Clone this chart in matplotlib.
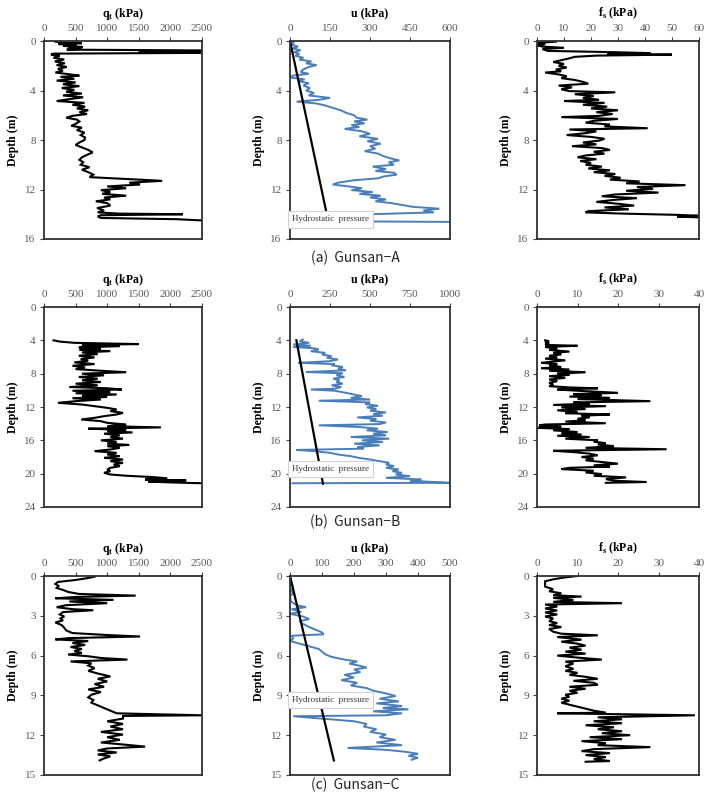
import matplotlib
matplotlib.use("Agg")
import matplotlib.pyplot as plt

a_qt = [(0.05,180),(0.12,320),(0.18,600),(0.25,230),(0.32,520),(0.4,300),(0.48,610),(0.55,380),(0.62,600),(0.7,360),
        (0.76,2500),(0.84,2500),(0.9,1500),(0.96,2500),(1.02,150),(1.1,110),(1.2,250),(1.35,150),(1.5,320),(1.65,170),
        (1.8,330),(1.95,200),(2.1,360),(2.25,220),(2.4,300),(2.55,180),(2.7,420),(2.8,560),(2.9,260),(3.05,480),
        (3.2,200),(3.35,500),(3.5,300),(3.65,560),(3.8,280),(3.95,480),(4.1,350),(4.25,600),(4.4,300),(4.55,620),
        (4.7,400),(4.85,200),(5.0,640),(5.15,450),(5.3,650),(5.45,520),(5.6,700),(5.75,560),(5.9,680),(6.05,450),
        (6.2,350),(6.35,520),(6.5,560),(6.7,500),(6.85,430),(7.0,600),(7.2,520),(7.4,640),(7.6,580),(7.8,650),
        (8.0,640),(8.2,560),(8.4,500),(8.6,600),(8.8,700),(9.0,770),(9.2,680),(9.4,600),(9.6,560),(9.8,620),
        (10.0,580),(10.2,720),(10.4,600),(10.6,700),(10.8,780),(11.0,720),(11.1,1100),(11.2,1500),(11.3,1870),(11.45,1350),
        (11.6,1520),(11.75,1000),(11.9,1300),(12.05,900),(12.2,1050),(12.35,920),(12.5,1300),(12.65,950),(12.8,1050),(12.95,820),
        (13.1,1000),(13.3,1050),(13.5,840),(13.7,950),(13.85,850),(13.95,1200),(14.0,2200),(14.08,900),(14.18,850),(14.3,900),
        (14.4,2100),(14.5,2500)]
a_u = [(0.0,0),(0.15,15),(0.3,5),(0.45,30),(0.6,10),(0.75,40),(0.9,15),(1.05,35),(1.2,20),(1.35,50),
       (1.5,35),(1.65,80),(1.8,60),(1.95,100),(2.1,70),(2.3,50),(2.5,40),(2.65,70),(2.8,10),(2.95,0),
       (3.1,55),(3.25,30),(3.4,70),(3.6,50),(3.8,75),(4.0,60),(4.2,90),(4.4,70),(4.6,150),(4.75,110),
       (4.9,25),(5.05,100),(5.2,130),(5.4,160),(5.6,190),(5.8,210),(6.0,240),(6.2,250),(6.35,290),(6.5,240),
       (6.65,280),(6.8,230),(6.95,260),(7.1,205),(7.3,270),(7.5,300),(7.7,260),(7.9,330),(8.1,290),(8.3,340),
       (8.5,300),(8.7,320),(8.9,280),(9.1,330),(9.3,350),(9.5,380),(9.65,410),(9.8,370),(10.0,390),(10.15,310),
       (10.35,360),(10.5,320),(10.65,390),(10.8,400),(10.95,350),(11.1,330),(11.25,240),(11.45,180),(11.6,160),(11.75,220),
       (11.9,270),(12.05,230),(12.2,310),(12.35,260),(12.5,340),(12.65,300),(12.8,360),(12.95,320),(13.1,380),(13.25,420),
       (13.4,460),(13.55,560),(13.7,500),(13.85,540),(14.0,300),(14.1,120),(14.3,100),(14.55,50),(14.62,600)]
a_fs = [(0.05,7),(0.15,0.5),(0.25,3),(0.35,0),(0.45,2),(0.55,10),(0.65,2),(0.8,4),(0.9,28),(0.98,42),
        (1.05,26),(1.1,50),(1.18,22),(1.28,14),(1.4,12),(1.55,9),(1.7,6),(1.85,10),(2.0,8),(2.15,11),
        (2.3,7),(2.45,9),(2.55,3),(2.7,8),(2.85,11),(3.0,9),(3.15,14),(3.3,17),(3.45,19),(3.6,8),
        (3.75,13),(3.9,9),(4.05,12),(4.15,29),(4.3,14),(4.45,21),(4.6,17),(4.75,23),(4.85,10),(5.0,25),
        (5.15,17),(5.3,26),(5.45,20),(5.6,30),(5.75,22),(5.9,28),(6.05,23),(6.15,9),(6.3,30),(6.45,21),
        (6.6,18),(6.75,27),(6.9,25),(7.05,41),(7.15,12),(7.3,22),(7.45,18),(7.6,11),(7.75,20),(7.9,25),
        (8.05,23),(8.2,17),(8.35,22),(8.5,13),(8.65,24),(8.8,27),(8.95,21),(9.1,25),(9.25,18),(9.4,15),
        (9.55,22),(9.7,16),(9.85,20),(10.0,18),(10.15,24),(10.3,19),(10.45,27),(10.6,21),(10.75,29),(10.9,25),
        (11.05,31),(11.2,27),(11.35,38),(11.5,33),(11.65,55),(11.8,37),(11.95,43),(12.1,33),(12.25,45),(12.4,29),
        (12.55,24),(12.7,37),(12.85,28),(13.0,22),(13.15,30),(13.3,36),(13.45,25),(13.6,34),(13.75,19),(13.85,18),
        (13.95,32),(14.05,52),(14.12,60),(14.2,52),(14.25,60)]

b_qt = [(4.0,150),(4.15,250),(4.3,480),(4.45,1500),(4.55,600),(4.7,1200),(4.85,550),(5.0,900),(5.15,560),(5.3,1050),
        (5.45,600),(5.65,850),(5.85,550),(6.05,800),(6.25,580),(6.45,700),(6.65,480),(6.85,800),(7.05,450),(7.25,650),
        (7.45,500),(7.65,900),(7.83,1300),(8.0,600),(8.2,950),(8.4,550),(8.6,850),(8.8,600),(9.0,900),(9.2,500),
        (9.4,850),(9.6,400),(9.75,1000),(9.9,1230),(10.05,450),(10.2,1050),(10.35,500),(10.5,1150),(10.65,600),(10.8,1000),
        (10.95,450),(11.1,900),(11.3,500),(11.5,220),(11.7,600),(11.9,800),(12.1,1000),(12.3,1150),(12.5,1050),(12.7,1250),
        (12.9,1150),(13.1,950),(13.3,800),(13.5,590),(13.7,900),(13.9,1000),(14.1,1300),(14.3,1000),(14.45,1850),(14.6,700),
        (14.75,1300),(14.9,1000),(15.05,1400),(15.2,950),(15.4,1200),(15.6,1050),(15.8,1250),(16.0,900),(16.2,1150),(16.4,1000),
        (16.55,1350),(16.7,1000),(16.9,1200),(17.1,1050),(17.3,800),(17.5,1150),(17.7,1000),(17.9,1200),(18.1,950),(18.3,1250),
        (18.5,1050),(18.7,1250),(18.9,1100),(19.1,1200),(19.3,1050),(19.5,1000),(19.7,1050),(19.9,950),(20.1,1050),(20.25,1300),
        (20.4,1700),(20.55,1950),(20.7,1600),(20.8,2250),(20.95,1650),(21.05,2000),(21.15,2500)]
b_u = [(3.9,80),(4.1,60),(4.3,120),(4.5,20),(4.65,130),(4.8,20),(4.95,150),(5.1,180),(5.3,130),(5.5,220),
       (5.7,200),(5.9,260),(6.1,230),(6.3,300),(6.5,250),(6.7,50),(6.85,280),(7.0,260),(7.2,330),(7.4,300),
       (7.6,350),(7.8,100),(7.95,330),(8.2,290),(8.4,340),(8.6,270),(8.8,310),(9.0,290),(9.2,330),(9.4,260),
       (9.6,320),(9.8,280),(9.9,130),(10.05,280),(10.3,350),(10.5,400),(10.7,450),(10.9,380),(11.1,500),(11.25,180),
       (11.45,500),(11.65,470),(11.85,550),(12.05,480),(12.25,540),(12.45,500),(12.65,600),(12.85,520),(13.05,580),(13.25,420),
       (13.45,540),(13.65,500),(13.85,600),(14.05,560),(14.2,180),(14.4,430),(14.6,550),(14.8,480),(15.0,610),(15.2,520),
       (15.4,600),(15.6,380),(15.8,620),(16.0,450),(16.2,580),(16.4,400),(16.6,560),(16.8,420),(17.0,460),(17.15,40),
       (17.3,150),(17.5,250),(17.7,300),(17.9,380),(18.1,430),(18.3,500),(18.5,560),(18.7,620),(18.9,600),(19.1,650),
       (19.3,600),(19.5,680),(19.7,640),(19.9,700),(20.1,660),(20.3,750),(20.5,600),(20.7,820),(20.85,750),(21.0,900),
       (21.1,1000),(21.15,15)]
b_fs = [(4.0,2),(4.1,3),(4.25,2),(4.4,3),(4.55,2),(4.65,10),(4.8,2),(5.0,5),(5.15,3),(5.35,8),
        (5.5,4),(5.7,6),(5.85,3),(6.05,5),(6.2,2),(6.4,7),(6.55,4),(6.7,1),(6.85,5),(7.0,3),
        (7.2,6),(7.35,1),(7.5,8),(7.65,3),(7.83,12),(8.0,5),(8.15,8),(8.3,3),(8.5,7),(8.7,3),
        (8.9,5),(9.1,3),(9.3,4),(9.5,3),(9.65,8),(9.76,15),(9.9,5),(10.05,10),(10.3,20),(10.45,9),
        (10.6,16),(10.75,8),(10.9,18),(11.05,10),(11.3,28),(11.45,9),(11.6,13),(11.75,4),(11.9,17),(12.05,6),
        (12.25,12),(12.4,5),(12.6,10),(12.75,7),(12.9,18),(13.05,11),(13.25,13),(13.4,10),(13.6,12),(13.75,7),
        (13.95,17),(14.1,2),(14.2,0.5),(14.35,6),(14.5,0),(14.65,8),(14.8,4),(15.0,10),(15.15,6),(15.3,11),
        (15.45,5),(15.6,13),(15.8,7),(16.0,15),(16.15,14),(16.35,17),(16.5,15),(16.7,19),(16.9,12),(17.07,32),
        (17.25,4),(17.45,10),(17.6,13),(17.8,15),(18.0,11),(18.2,14),(18.4,12),(18.6,16),(18.8,20),(19.0,14),
        (19.15,18),(19.3,8),(19.45,6),(19.65,14),(19.85,12),(20.05,16),(20.25,14),(20.45,22),(20.65,17),(20.85,19),
        (21.0,27),(21.1,17)]

c_qt = [(0.05,800),(0.15,700),(0.3,500),(0.45,220),(0.6,180),(0.75,230),(0.9,200),(1.05,300),(1.2,380),(1.35,550),
        (1.48,1450),(1.58,500),(1.68,180),(1.8,1100),(1.92,400),(2.05,1000),(2.2,350),(2.35,200),(2.5,450),(2.58,780),
        (2.72,300),(2.9,250),(3.05,320),(3.2,260),(3.35,300),(3.5,180),(3.7,280),(3.9,320),(4.1,350),(4.3,450),
        (4.45,1000),(4.56,1520),(4.68,400),(4.78,180),(4.9,700),(5.05,450),(5.2,650),(5.35,420),(5.5,600),(5.65,480),
        (5.8,600),(5.92,380),(6.05,700),(6.18,900),(6.3,1320),(6.44,420),(6.58,750),(6.75,700),(6.95,800),(7.15,700),
        (7.35,850),(7.57,1050),(7.75,850),(7.95,1000),(8.15,800),(8.35,950),(8.55,700),(8.75,900),(8.95,750),(9.15,700),
        (9.35,780),(9.55,750),(9.75,850),(9.95,950),(10.15,1050),(10.35,1150),(10.5,2500),(10.55,1250),(10.75,1250),(10.95,1000),
        (11.15,1250),(11.35,1050),(11.55,1250),(11.75,900),(11.95,1250),(12.15,1000),(12.35,1200),(12.55,900),(12.7,1250),(12.86,1600),
        (13.0,1000),(13.15,850),(13.3,1150),(13.45,850),(13.6,1050),(13.75,950),(13.9,880)]
c_u = [(0.0,0),(0.5,3),(0.9,10),(1.1,0),(1.3,12),(1.5,0),(1.9,2),(2.2,20),(2.35,50),(2.5,5),
       (2.7,35),(2.85,0),(3.05,40),(3.25,60),(3.4,30),(3.6,40),(3.85,60),(4.05,80),(4.25,100),(4.4,105),
       (4.5,5),(4.7,10),(4.9,0),(5.1,30),(5.3,60),(5.5,90),(5.7,100),(5.9,110),(6.1,130),(6.3,170),
       (6.45,210),(6.6,185),(6.75,215),(6.9,240),(7.05,200),(7.25,220),(7.45,170),(7.65,200),(7.85,160),(8.05,210),
       (8.25,190),(8.45,240),(8.65,260),(8.85,300),(9.05,330),(9.25,280),(9.45,340),(9.6,270),(9.8,350),(9.95,290),
       (10.05,370),(10.2,260),(10.35,350),(10.5,300),(10.57,10),(10.75,100),(10.95,200),(11.15,240),(11.35,230),(11.55,270),
       (11.75,250),(11.95,300),(12.15,280),(12.35,330),(12.55,270),(12.75,350),(12.96,180),(13.1,300),(13.25,360),(13.4,400),
       (13.55,370),(13.7,400),(13.85,380)]
c_fs = [(0.0,10),(0.1,7),(0.25,4),(0.4,2),(0.6,2),(0.8,2),(1.0,4),(1.15,3),(1.3,6),(1.45,4),
        (1.55,11),(1.65,4),(1.8,9),(1.95,4),(2.05,21),(2.15,2),(2.3,5),(2.45,2),(2.6,5),(2.75,2),
        (2.9,5),(3.05,2),(3.2,4),(3.4,3),(3.55,5),(3.7,3),(3.85,6),(4.0,3),(4.2,4),(4.35,6),
        (4.47,15),(4.6,5),(4.8,11),(4.95,6),(5.1,10),(5.25,12),(5.4,8),(5.55,11),(5.7,7),(5.85,12),
        (6.0,5),(6.15,10),(6.3,16),(6.45,7),(6.6,9),(6.8,7),(7.0,9),(7.15,7),(7.3,10),(7.45,8),
        (7.6,12),(7.75,15),(7.9,9),(8.05,14),(8.2,15),(8.35,8),(8.5,12),(8.65,8),(8.8,10),(8.95,7),
        (9.1,8),(9.25,6),(9.4,8),(9.55,6),(9.7,8),(9.85,10),(10.0,12),(10.15,14),(10.3,17),(10.35,5),
        (10.5,39),(10.65,15),(10.8,21),(10.95,14),(11.1,21),(11.25,12),(11.4,19),(11.55,15),(11.7,21),(11.85,16),
        (12.0,23),(12.15,13),(12.3,21),(12.45,11),(12.6,17),(12.75,15),(12.9,28),(13.05,14),(13.2,11),(13.35,18),
        (13.5,12),(13.65,17),(13.8,14),(13.95,18),(14.0,12)]

# hydrostatic pressure lines (depth, u)
a_hydro = [(0.0, 0), (14.0, 138)]
b_hydro = [(4.0, 40), (21.2, 206)]
c_hydro = [(0.0, 0), (13.9, 137)]

sites = ["(a)  Gunsan\u2212A", "(b)  Gunsan\u2212B", "(c)  Gunsan\u2212C"]
depth_max = [16, 24, 15]
depth_ticks = [[0, 4, 8, 12, 16], [0, 4, 8, 12, 16, 20, 24], [0, 3, 6, 9, 12, 15]]
qt_ticks = [0, 500, 1000, 1500, 2000, 2500]
u_ticks = [[0, 150, 300, 450, 600], [0, 250, 500, 750, 1000], [0, 100, 200, 300, 400, 500]]
fs_ticks = [[0, 10, 20, 30, 40, 50, 60], [0, 10, 20, 30, 40], [0, 10, 20, 30, 40]]
legend_depth = [14.1, 19.0, 9.05]   # top of the "Hydrostatic pressure" box

plt.rcParams['font.family'] = ['Liberation Serif', 'DejaVu Serif']
plt.rcParams['mathtext.fontset'] = 'custom'
plt.rcParams['mathtext.rm'] = 'Liberation Serif'
plt.rcParams['mathtext.bf'] = 'Liberation Serif:bold'

W, H = 708, 793
fig = plt.figure(figsize=(W / 100, H / 100), dpi=100)

rows_px = [(41, 239), (307, 507), (576, 775)]
cols_px = [(44, 202), (290, 450), (537, 699)]
cap_y = [258, 522, 785]

profiles = [[a_qt, a_u, a_fs], [b_qt, b_u, b_fs], [c_qt, c_u, c_fs]]
hydros = [a_hydro, b_hydro, c_hydro]
labels = [r"q$_{\mathbf{t}}$ (kPa)", "u (kPa)", r"f$_{\mathbf{s}}$ (kPa)"]
tick_col = '#595959'

for r in range(3):
    top, bot = rows_px[r]
    for c in range(3):
        l, rt = cols_px[c]
        ax = fig.add_axes([l / W, 1 - bot / H, (rt - l) / W, (bot - top) / H])
        data = profiles[r][c]
        d = [p[0] for p in data]
        v = [p[1] for p in data]
        if c == 1:
            ax.plot(v, d, color='#4a7ebb', lw=1.4, solid_joinstyle='miter')
            hd = [p[0] for p in hydros[r]]
            hv = [p[1] for p in hydros[r]]
            ax.plot(hv, hd, color='black', lw=1.6)
            ticks = u_ticks[r]
        elif c == 0:
            ax.plot(v, d, color='black', lw=1.5, solid_joinstyle='miter')
            ticks = qt_ticks
        else:
            ax.plot(v, d, color='black', lw=1.5, solid_joinstyle='miter')
            ticks = fs_ticks[r]
        ax.set_xlim(ticks[0], ticks[-1])
        ax.set_ylim(depth_max[r], 0)
        ax.set_xticks(ticks)
        ax.set_yticks(depth_ticks[r])
        ax.xaxis.tick_top()
        ax.xaxis.set_label_position('top')
        ax.tick_params(axis='both', labelsize=8, colors='#404040', labelcolor=tick_col,
                       length=3, width=0.8, direction='out', pad=3)
        ax.set_xlabel(labels[c], fontsize=8.5, fontweight='bold', labelpad=5)
        ax.set_ylabel("Depth (m)", fontsize=8.5, fontweight='bold', labelpad=4)
        for s in ax.spines.values():
            s.set_color('#303030')
            s.set_linewidth(1.3)
        if c == 1:
            ax.text(ticks[-1] * 0.012, legend_depth[r], "Hydrostatic  pressure",
                    fontsize=6.5, va='top', ha='left', color='#333333',
                    bbox=dict(boxstyle='square,pad=0.45', fc='white', ec='#d0d0d0', lw=0.8),
                    zorder=5)
    fig.text(355 / W, 1 - cap_y[r] / H, sites[r], ha='center', va='center',
             fontsize=10, family=['Noto Sans CJK KR', 'DejaVu Sans'], color='#222222')

fig.savefig("out.png", dpi=100)
